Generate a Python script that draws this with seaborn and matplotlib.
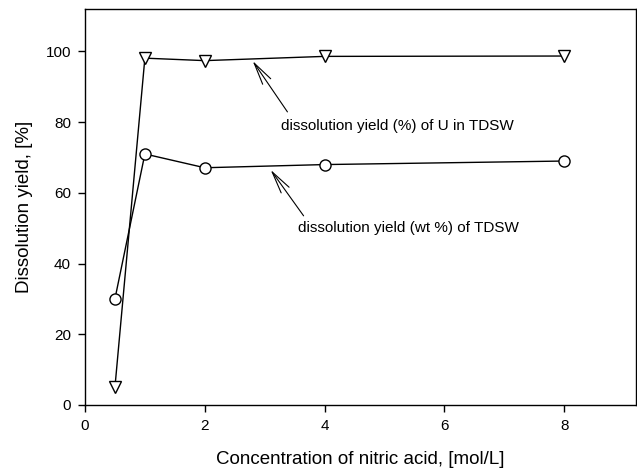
import pandas as pd
import matplotlib
matplotlib.use("Agg")
import matplotlib.pyplot as plt
import seaborn as sns

# data
conc = [0.5, 1, 2, 4, 8]
yield_u = [5, 98.1, 97.4, 98.6, 98.7]
yield_wt = [30, 71, 67.1, 68, 69]

df = pd.DataFrame({"conc": conc, "u": yield_u, "wt": yield_wt})

sns.set_style("ticks", {"text.color": "black", "axes.labelcolor": "black",
                        "xtick.color": "black", "ytick.color": "black"})
plt.rcParams["font.family"] = ["Liberation Sans", "DejaVu Sans"]

fig = plt.figure(figsize=(6.37, 4.74), dpi=100)
ax = fig.add_axes([0.1334, 0.1456, 0.8651, 0.8354])

sns.lineplot(x="conc", y="u", data=df, ax=ax, color="black", lw=1,
             marker="v", markersize=8, markerfacecolor="white",
             markeredgecolor="black", markeredgewidth=1)
sns.lineplot(x="conc", y="wt", data=df, ax=ax, color="black", lw=1,
             marker="o", markersize=8, markerfacecolor="white",
             markeredgecolor="black", markeredgewidth=1)

ax.set_xlim(0, 9.2)
ax.set_ylim(0, 112)
ax.set_xticks([0, 2, 4, 6, 8])
ax.set_yticks([0, 20, 40, 60, 80, 100])
ax.tick_params(direction="out", length=5, width=1, labelsize=11, color="black",
               labelcolor="black", pad=5)
for s in ax.spines.values():
    s.set_visible(True)
    s.set_linewidth(1)
    s.set_color("black")

ax.set_xlabel("Concentration of nitric acid, [mol/L]", fontsize=13.5, labelpad=13, color="black")
ax.set_ylabel("Dissolution yield, [%]", fontsize=13.5, labelpad=9, color="black")

arrow = dict(arrowstyle="->,head_length=1.6,head_width=0.35", color="black", lw=0.8,
             shrinkA=0, shrinkB=0)
ax.annotate("", xy=(2.8, 97.3), xytext=(3.38, 82.9), arrowprops=arrow)
ax.annotate("", xy=(3.1, 66.5), xytext=(3.65, 53.5), arrowprops=arrow)
ax.text(3.28, 78.8, "dissolution yield (%) of U in TDSW", fontsize=11, va="center", color="black")
ax.text(3.55, 50.0, "dissolution yield (wt %) of TDSW", fontsize=11, va="center", color="black")

fig.savefig("out.png", dpi=100)
